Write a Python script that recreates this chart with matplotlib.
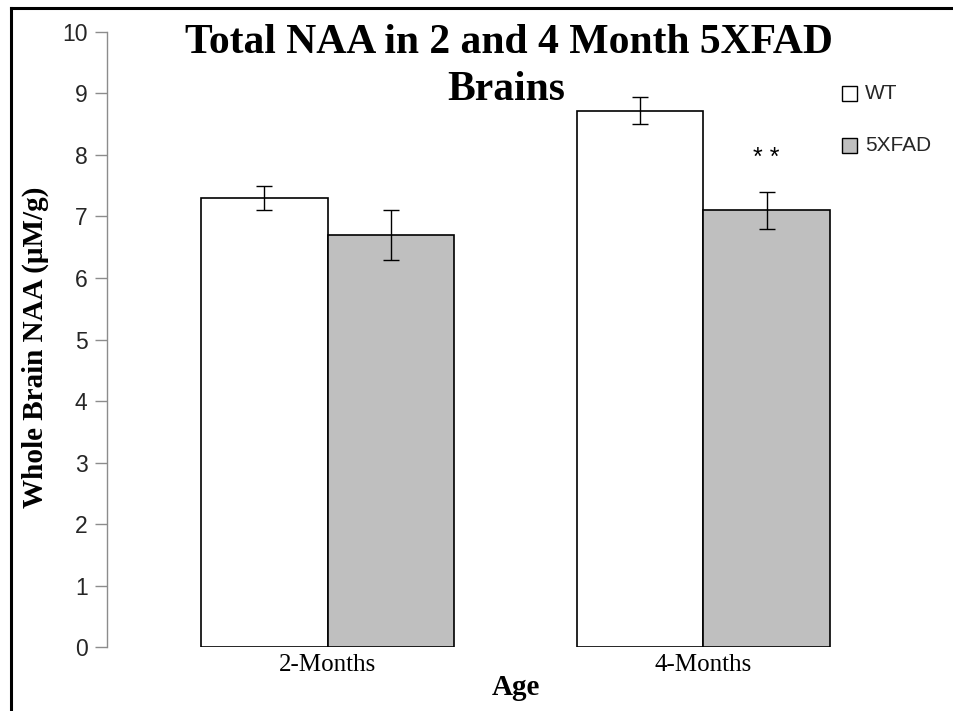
import matplotlib
matplotlib.use("Agg")
import matplotlib.pyplot as plt
import numpy as np
from matplotlib.patches import Rectangle

# NAA values (uM/g) and error bars
ages = ["2-Months", "4-Months"]
wt_vals = [7.3, 8.72]
wt_err = [0.2, 0.22]
fad_vals = [6.7, 7.1]
fad_err = [0.4, 0.3]
groups = ["WT", "5XFAD"]
yticks = [0, 1, 2, 3, 4, 5, 6, 7, 8, 9, 10]

serif = "Liberation Serif"
sans = "Liberation Sans"

fig = plt.figure(figsize=(9.54, 7.11), dpi=100)
ax = fig.add_axes([0.1122, 0.090, 0.79, 0.865])

x = np.arange(len(ages))
w = 0.336
bar_kw = dict(edgecolor="black", linewidth=1.2, zorder=2)
ax.bar(x - w / 2, wt_vals, w, color="white", **bar_kw)
ax.bar(x + w / 2, fad_vals, w, color="#bfbfbf", **bar_kw)
err_kw = dict(fmt="none", ecolor="black", elinewidth=1.0, capsize=6, capthick=1.0, zorder=3)
ax.errorbar(x - w / 2, wt_vals, yerr=wt_err, **err_kw)
ax.errorbar(x + w / 2, fad_vals, yerr=fad_err, **err_kw)

# significance marker over the 4-month 5XFAD bar
ax.text(x[1] + w / 2, fad_vals[1] + fad_err[1] + 0.55, "* *", ha="center", va="center",
        fontsize=18, family=sans)

ax.set_xlim(-0.5864, 1.4181)
ax.set_ylim(0, 10)
ax.set_yticks(yticks)
ax.set_yticklabels([str(t) for t in yticks], family=sans, fontsize=16.5, color="#262626")
ax.set_xticks(x)
ax.set_xticklabels(ages, family=serif, fontsize=18)
ax.tick_params(axis="y", length=9, color="#8c8c8c", width=1, pad=5)
ax.tick_params(axis="x", length=0, pad=5)
for s in ["top", "right", "bottom"]:
    ax.spines[s].set_visible(False)
ax.spines["left"].set_color("#8c8c8c")
ax.spines["left"].set_linewidth(1)

fig.text(0.541, 0.023, "Age", ha="center", va="baseline", family=serif, fontsize=21,
         fontweight="bold")
fig.text(0.037, 0.512, "Whole Brain NAA (\u03bcM/g)", rotation=90, ha="center", va="center",
         family=serif, fontsize=21, fontweight="bold")

fig.text(0.533, 0.926, "Total NAA in 2 and 4 Month 5XFAD", ha="center", va="baseline",
         family=serif, fontsize=30, fontweight="bold")
fig.text(0.531, 0.860, "Brains", ha="center", va="baseline",
         family=serif, fontsize=30, fontweight="bold")

# legend entries
leg_colors = ["white", "#bfbfbf"]
leg_y = [0.869, 0.796]
for name, c, yy in zip(groups, leg_colors, leg_y):
    fig.patches.append(Rectangle((0.8826, yy - 0.0105), 0.0157, 0.021, transform=fig.transFigure,
                                 facecolor=c, edgecolor="black", linewidth=1.0))
    fig.text(0.9067, yy, name, ha="left", va="center", family=sans, fontsize=15, color="#262626")

# frame around the figure
fig.add_artist(plt.Line2D([0.0115, 0.0115], [0, 0.989], transform=fig.transFigure, color="black", lw=2.2))
fig.add_artist(plt.Line2D([0.0115, 1.0], [0.989, 0.989], transform=fig.transFigure, color="black", lw=2.2))

fig.savefig("out.png", dpi=100)
